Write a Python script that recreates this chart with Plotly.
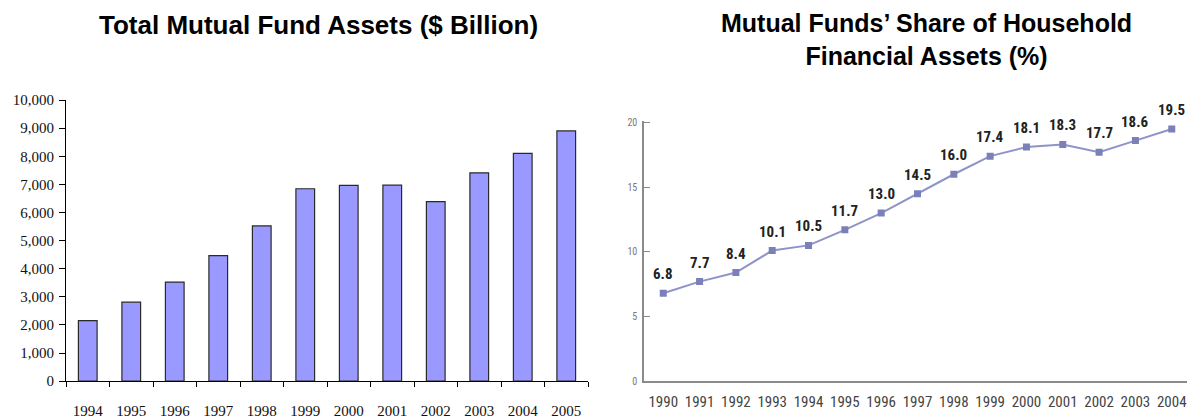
import plotly.graph_objects as go

# Left chart data
asset_years = ["1994", "1995", "1996", "1997", "1998", "1999", "2000", "2001", "2002", "2003", "2004", "2005"]
asset_values = [2155, 2811, 3526, 4468, 5525, 6846, 6965, 6975, 6390, 7414, 8107, 8905]
asset_ticks = [0, 1000, 2000, 3000, 4000, 5000, 6000, 7000, 8000, 9000, 10000]

# Right chart data
share_years = [1990, 1991, 1992, 1993, 1994, 1995, 1996, 1997, 1998, 1999, 2000, 2001, 2002, 2003, 2004]
share_values = [6.8, 7.7, 8.4, 10.1, 10.5, 11.7, 13.0, 14.5, 16.0, 17.4, 18.1, 18.3, 17.7, 18.6, 19.5]
share_labels = ["6.8", "7.7", "8.4", "10.1", "10.5", "11.7", "13.0", "14.5", "16.0", "17.4", "18.1", "18.3", "17.7", "18.6", "19.5"]
share_ticks = [0, 5, 10, 15, 20]

W, H = 1187, 419
COND = "Liberation Sans Narrow, Roboto Condensed, Lato, sans-serif"

fig = go.Figure()

fig.add_trace(go.Bar(
    x=asset_years, y=asset_values,
    marker=dict(color="#9999FF", line=dict(color="#2a2a2a", width=1.2)),
    width=0.43,
    xaxis="x", yaxis="y", showlegend=False,
))

fig.add_trace(go.Scatter(
    x=share_years, y=share_values, mode="lines+markers",
    line=dict(color="#8e93c8", width=2),
    marker=dict(symbol="square", size=7, color="#7b80b9"),
    xaxis="x2", yaxis="y2", showlegend=False,
))

annotations = []
for xv, yv, lab in zip(share_years, share_values, share_labels):
    annotations.append(dict(
        x=xv, y=yv, xref="x2", yref="y2", text=lab, showarrow=False,
        yshift=19, font=dict(family=COND, size=15, color="#222222", weight="bold"),
    ))

annotations += [
    dict(x=318 / W, y=1 - 18 / H, xref="paper", yref="paper", text="Total Mutual Fund Assets ($ Billion)",
         showarrow=False, xanchor="center", yanchor="middle",
         font=dict(family="Liberation Sans, Arial", size=26, color="#000000", weight="bold")),
    dict(x=926 / W, y=1 - 33 / H, xref="paper", yref="paper",
         text="Mutual Funds\u2019 Share of Household<br>Financial Assets (%)",
         showarrow=False, xanchor="center", yanchor="middle", align="center",
         font=dict(family="Liberation Sans, Arial", size=25, color="#000000", weight="bold")),
]

fig.update_layout(
    width=W, height=H,
    margin=dict(l=0, r=0, t=0, b=0),
    paper_bgcolor="white", plot_bgcolor="white",
    annotations=annotations,
    xaxis=dict(
        domain=[66 / W, 588 / W], type="category",
        showline=True, linecolor="#000000", linewidth=1,
        ticks="outside", ticklen=5, tickcolor="#000000", tickson="boundaries",
        showgrid=False, zeroline=False,
        tickfont=dict(family="Liberation Serif, Times New Roman", size=15, color="#111111"),
        ticklabelstandoff=16,
    ),
    yaxis=dict(
        domain=[(H - 389) / H, (H - 96) / H], range=[0, 10000],
        tickvals=asset_ticks, tickformat=",d",
        showline=True, linecolor="#000000", linewidth=1,
        ticks="outside", ticklen=6, tickcolor="#000000",
        showgrid=False, zeroline=False,
        tickfont=dict(family="Liberation Serif, Times New Roman", size=15, color="#111111"),
        ticklabelstandoff=2,
    ),
    xaxis2=dict(
        domain=[644 / W, 1.0], range=[1989.47, 2004.42],
        tickvals=share_years, ticks="",
        showline=True, linecolor="#8a8a8a", linewidth=1.5,
        showgrid=False, zeroline=False,
        tickfont=dict(family=COND, size=15, color="#444444"),
        ticklabelstandoff=6, anchor="y2",
    ),
    yaxis2=dict(
        domain=[(H - 389) / H, (H - 118) / H], range=[0, 20.1],
        tickvals=share_ticks,
        showline=True, linecolor="#8a8a8a", linewidth=1.5,
        ticks="inside", ticklen=6, tickcolor="#8a8a8a",
        showgrid=False, zeroline=False,
        tickfont=dict(family=COND, size=10, color="#777777"),
        ticklabelstandoff=3, anchor="x2",
    ),
)

fig.write_html("out.html")
